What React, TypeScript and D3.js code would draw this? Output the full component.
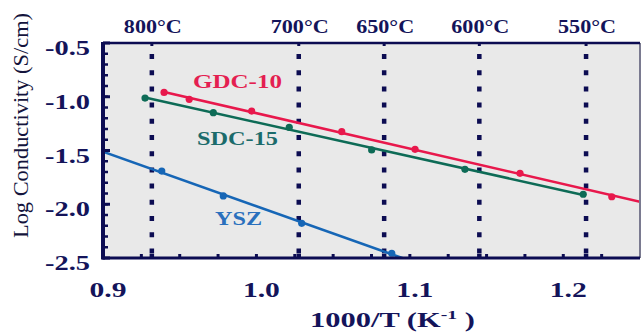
import React from "react";
import * as d3 from "d3";

// data (x = 1000/T, y = log conductivity)
const gdcX = [0.9398, 0.9562, 0.9969, 1.0556, 1.1034, 1.1718, 1.2316];
const gdcY = [-0.96, -1.024, -1.133, -1.325, -1.489, -1.712, -1.93];
const sdcX = [0.9274, 0.9719, 1.0214, 1.0751, 1.1359, 1.213];
const sdcY = [-1.012, -1.148, -1.284, -1.495, -1.675, -1.907];
const yszX = [0.9383, 0.9784, 1.0295, 1.0882];
const yszY = [-1.691, -1.923, -2.177, -2.456];

// extent of each fitted line along x
const gdcSpan = [0.9398, 1.25];
const sdcSpan = [0.9274, 1.213];
const yszSpan = [0.9, 1.1];

const tempsC = [800, 700, 650, 600, 550];
const xTicks = [0.9, 1.0, 1.1, 1.2];
const yTicks = [-0.5, -1.0, -1.5, -2.0, -2.5];

const W = 642;
const H = 332;
const left = 103, right = 640, top = 43, bottom = 258;

const navy = "#0c0c52";
const serif = "'Liberation Serif', 'DejaVu Serif', serif";

const fit = (xs: number[], ys: number[]) => {
  const mx = d3.mean(xs)!, my = d3.mean(ys)!;
  const sxy = d3.sum(xs, (x, i) => (x - mx) * (ys[i] - my));
  const sxx = d3.sum(xs, (x) => (x - mx) * (x - mx));
  const b = sxy / sxx;
  return (x: number) => my + b * (x - mx);
};

const App = () => {
  const x = d3.scaleLinear().domain([0.9, 1.25]).range([left, right]);
  const y = d3.scaleLinear().domain([-0.5, -2.5]).range([top, bottom]);
  const line = d3
    .line<number[]>()
    .x((d) => x(d[0]))
    .y((d) => y(d[1]));

  const series = [
    { xs: gdcX, ys: gdcY, span: gdcSpan, color: "#e8184c" },
    { xs: sdcX, ys: sdcY, span: sdcSpan, color: "#0d6b56" },
    { xs: yszX, ys: yszY, span: yszSpan, color: "#1666b6" },
  ];

  const tempX = tempsC.map((t) => 1000 / (t + 273.15));
  const minorX = d3.range(0.925, 1.25, 0.025);
  const minorY = d3.range(-2.4, -0.5, 0.1);

  return (
    <svg width={W} height={H} style={{ position: "absolute", left: 0, top: 0 }}>
      <defs>
        <clipPath id="plot">
          <rect x={left} y={top} width={right - left} height={bottom - top} />
        </clipPath>
      </defs>
      <rect x={left} y={top} width={right - left} height={bottom - top} fill="#e9e9e9" />

      {/* temperature dotted lines */}
      {tempX.map((t, i) => (
        <g key={i}>
          <line x1={x(t)} x2={x(t)} y1={top} y2={bottom} stroke={navy} strokeWidth={4.5}
            strokeDasharray="5 11.2" strokeDashoffset={-11} />
          <line x1={x(t)} x2={x(t)} y1={bottom - 4} y2={bottom} stroke={navy} strokeWidth={4.5} />
          <line x1={x(t)} x2={x(t)} y1={top} y2={top + 3} stroke={navy} strokeWidth={3} />
          <text x={x(t) - 28} y={33} textLength={58} lengthAdjust="spacingAndGlyphs"
            fontFamily={serif} fontWeight="bold" fontSize={18.5} fill="#14145a">
            {`${tempsC[i]}°C`}
          </text>
        </g>
      ))}

      {/* fitted lines and points */}
      <g clipPath="url(#plot)">
        {series.map((s, i) => {
          const f = fit(s.xs, s.ys);
          return (
            <path key={i} d={line([[s.span[0], f(s.span[0])], [s.span[1], f(s.span[1])]])!}
              stroke={s.color} strokeWidth={2.6} fill="none" />
          );
        })}
      </g>
      {series.map((s, i) =>
        s.xs.map((v, j) => (
          <circle key={`${i}-${j}`} cx={x(v)} cy={y(s.ys[j])} r={3.6} fill={s.color} />
        ))
      )}

      {/* series labels */}
      <text x={193} y={88} textLength={89} lengthAdjust="spacingAndGlyphs" fontFamily={serif}
        fontWeight="bold" fontSize={18} fill="#e41f51">GDC-10</text>
      <text x={197} y={145} textLength={81} lengthAdjust="spacingAndGlyphs" fontFamily={serif}
        fontWeight="bold" fontSize={18} fill="#1b6b6b">SDC-15</text>
      <text x={215} y={225} textLength={47} lengthAdjust="spacingAndGlyphs" fontFamily={serif}
        fontWeight="bold" fontSize={18} fill="#2a70bd">YSZ</text>

      {/* frame */}
      <line x1={right} x2={right} y1={top} y2={bottom} stroke="#7a7a90" strokeWidth={2} />
      <line x1={left} x2={right} y1={top} y2={top} stroke={navy} strokeWidth={2.5} />
      <line x1={left - 1} x2={right} y1={bottom} y2={bottom} stroke={navy} strokeWidth={3.2} />
      <line x1={left} x2={left} y1={top - 1} y2={bottom + 1.5} stroke={navy} strokeWidth={4} />

      {/* minor ticks */}
      {minorX.map((v, i) => (
        <line key={i} x1={x(v)} x2={x(v)} y1={bottom} y2={bottom - 4} stroke={navy} strokeWidth={3} />
      ))}
      {minorY.map((v, i) => (
        <line key={i} x1={left} x2={left + 5} y1={y(v)} y2={y(v)} stroke={navy} strokeWidth={2.5} />
      ))}
      {yTicks.map((v, i) => (
        <line key={i} x1={left} x2={left + 7} y1={y(v)} y2={y(v)} stroke={navy} strokeWidth={3} />
      ))}

      {/* tick labels */}
      {yTicks.map((v, i) => (
        <text key={i} x={45} y={y(v) + 12} textLength={45} lengthAdjust="spacingAndGlyphs"
          fontFamily={serif} fontWeight="bold" fontSize={22} fill="#14145a">
          {d3.format(".1f")(v).replace("−", "-")}
        </text>
      ))}
      {xTicks.map((v, i) => (
        <text key={i} x={x(v) + 5 - 18.5} y={297} textLength={37} lengthAdjust="spacingAndGlyphs"
          fontFamily={serif} fontWeight="bold" fontSize={22} fill="#14145a">
          {d3.format(".1f")(v)}
        </text>
      ))}

      {/* axis titles */}
      <text x={310} y={327} textLength={165} lengthAdjust="spacingAndGlyphs" fontFamily={serif}
        fontWeight="bold" fontSize={20} fill="#14145a">
        1000/T (K<tspan fontSize={13} dy={-8}>-1</tspan><tspan dy={8}> )</tspan>
      </text>
      <text transform="translate(28,125.5) rotate(-90)" textAnchor="middle" textLength={225}
        lengthAdjust="spacingAndGlyphs" fontFamily={serif} fontSize={20} fill="#14143c">
        Log Conductivity (S/cm)
      </text>
    </svg>
  );
};

export default App;
